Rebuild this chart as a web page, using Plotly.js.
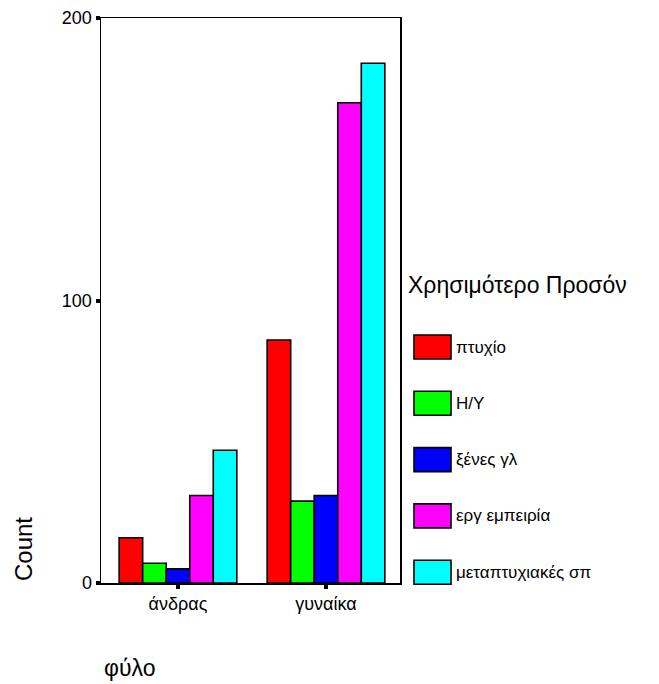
<!DOCTYPE html>
<html>
<head>
<meta charset="utf-8">
<script src="https://cdn.plot.ly/plotly-3.0.1.min.js"></script>
<style>html,body{margin:0;padding:0;background:#fff;}</style>
</head>
<body>
<div id="chart" style="width:659px;height:684px;"></div>
<script>
const categories = ["άνδρας", "γυναίκα"];
const seriesNames = ["πτυχίο", "Η/Υ", "ξένες γλ", "εργ εμπειρία", "μεταπτυχιακές σπ"];
const seriesColors = ["#ff0000", "#00ff00", "#0000ff", "#ff00ff", "#00ffff"];
const ptuxio = [16, 86];
const hy = [7, 29];
const ksenes = [5, 31];
const ergEmpeiria = [31, 170];
const metaptuxiakes = [47, 184];
const seriesValues = [ptuxio, hy, ksenes, ergEmpeiria, metaptuxiakes];
const yTicks = [0, 100, 200];
const legendTitle = "Χρησιμότερο Προσόν";
const xTitle = "φύλο";
const yTitle = "Count";

const W = 659, H = 684;
const L = 101, R = 400, T = 18, B = 583;
const px = x => (x - L) / (R - L);
const py = y => (B - y) / (B - T);
const FONT = "Liberation Sans, Arial, sans-serif";

const traces = seriesNames.map((name, i) => ({
  type: "bar",
  name: name,
  x: categories,
  y: seriesValues[i],
  marker: {color: seriesColors[i], line: {color: "#000", width: 1.6}},
  showlegend: false,
  hoverinfo: "none"
}));

const shapes = [];
const annotations = [];
seriesNames.forEach((name, i) => {
  const cy = 347 + i * 56.3;
  shapes.push({type: "rect", xref: "paper", yref: "paper",
    x0: px(414), x1: px(451), y0: py(cy - 12), y1: py(cy + 12),
    fillcolor: seriesColors[i], line: {color: "#000", width: 1.6}});
  annotations.push({xref: "paper", yref: "paper", x: px(454), y: py(cy),
    xanchor: "left", yanchor: "middle", showarrow: false, text: name,
    font: {family: FONT, size: 17, color: "#000"}});
});
annotations.push({xref: "paper", yref: "paper", x: px(406), y: py(285),
  xanchor: "left", yanchor: "middle", showarrow: false, text: legendTitle,
  font: {family: FONT, size: 23, color: "#000"}});
annotations.push({xref: "paper", yref: "paper", x: px(23), y: py(549),
  xanchor: "center", yanchor: "middle", showarrow: false, text: yTitle, textangle: -90,
  font: {family: FONT, size: 24, color: "#000"}});
annotations.push({xref: "paper", yref: "paper", x: px(102), y: py(668),
  xanchor: "left", yanchor: "middle", showarrow: false, text: xTitle,
  font: {family: FONT, size: 23, color: "#000"}});

const layout = {
  width: W, height: H,
  margin: {l: L, r: W - R, t: T, b: H - B, pad: 0},
  paper_bgcolor: "#fff", plot_bgcolor: "#fff",
  font: {family: FONT, color: "#000"},
  barmode: "group", bargap: 0.205, bargroupgap: 0,
  showlegend: false,
  xaxis: {type: "category", range: [-0.52, 1.5], showline: true, linecolor: "#000", linewidth: 1.5,
    mirror: true, ticks: "outside", ticklen: 4, tickwidth: 4, tickcolor: "#000",
    tickfont: {size: 18}, showgrid: false, zeroline: false, fixedrange: true},
  yaxis: {range: [0, 200], tickvals: yTicks, ticktext: yTicks.map(String), showline: true,
    linecolor: "#000", linewidth: 1.5, mirror: true, ticks: "outside", ticklen: 4, tickwidth: 4,
    tickcolor: "#000", tickfont: {size: 18}, showgrid: false, zeroline: false, fixedrange: true},
  shapes: shapes,
  annotations: annotations
};

Plotly.newPlot("chart", traces, layout, {displayModeBar: false, staticPlot: true});
</script>
</body>
</html>
